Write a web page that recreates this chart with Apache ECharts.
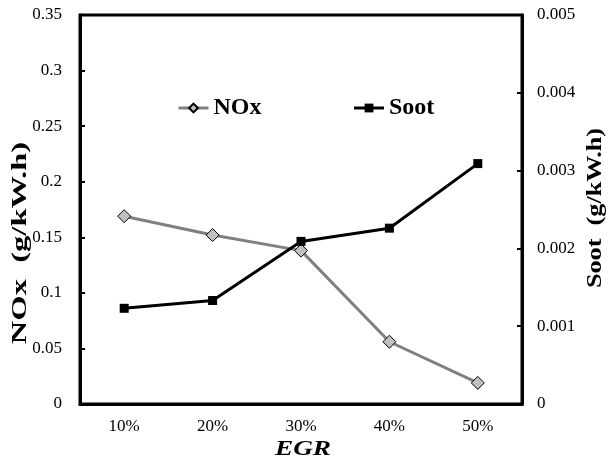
<!DOCTYPE html>
<html>
<head>
<meta charset="utf-8">
<script src="https://cdn.jsdelivr.net/npm/echarts@6/dist/echarts.min.js"></script>
<style>
html, body { margin: 0; padding: 0; background: #fff; }
#chart { width: 608px; height: 464px; }
</style>
</head>
<body>
<div id="chart"></div>
<script>
var categories = ['10%', '20%', '30%', '40%', '50%'];
var nox = [0.169, 0.152, 0.138, 0.056, 0.019];
var soot = [0.00123, 0.00133, 0.00209, 0.00226, 0.00309];

var serif = 'Liberation Serif';
var myChart = echarts.init(document.getElementById('chart'));

var tickLabel = {
    fontFamily: serif,
    fontSize: 17,
    color: '#000'
};

var xAxis = {
    type: 'category',
    data: categories,
    boundaryGap: true,
    axisLine: {lineStyle: {color: '#000', width: 3}},
    axisTick: {inside: true, length: 5, lineStyle: {color: '#000', width: 2}},
    axisLabel: Object.assign({margin: 14}, tickLabel)
};

var yAxis = [{
    type: 'value',
    min: 0,
    max: 0.35,
    interval: 0.05,
    splitLine: {show: false},
    axisLine: {show: true, lineStyle: {color: '#000', width: 3}},
    axisTick: {show: true, inside: true, length: 5, lineStyle: {color: '#000', width: 2}},
    axisLabel: Object.assign({margin: 18}, tickLabel)
}, {
    type: 'value',
    min: 0,
    max: 0.005,
    interval: 0.001,
    splitLine: {show: false},
    axisLine: {show: true, lineStyle: {color: '#000', width: 3}},
    axisTick: {show: true, inside: true, length: 5, lineStyle: {color: '#000', width: 2}},
    axisLabel: Object.assign({margin: 15}, tickLabel)
}];

var series = [{
    name: 'NOx',
    type: 'line',
    yAxisIndex: 0,
    data: nox,
    symbol: 'diamond',
    symbolSize: 13,
    itemStyle: {color: '#c0c0c0', borderColor: '#000', borderWidth: 1},
    lineStyle: {color: '#808080', width: 3},
    animation: false
}, {
    name: 'Soot',
    type: 'line',
    yAxisIndex: 1,
    data: soot,
    symbol: 'rect',
    symbolSize: 9,
    itemStyle: {color: '#000'},
    lineStyle: {color: '#000', width: 3},
    z: 3,
    animation: false
}];

var option = {
    animation: false,
    grid: {
        left: 80, right: 86, top: 15, bottom: 60,
        show: true, borderColor: '#000', borderWidth: 3
    },
    legend: {
        left: 172,
        top: 91,
        itemWidth: 30,
        itemHeight: 11,
        itemGap: 91,
        lineStyle: {width: 3},
        textStyle: {fontFamily: serif, fontWeight: 'bold', fontSize: 24, color: '#000'},
        data: ['NOx', 'Soot']
    },
    xAxis: xAxis,
    yAxis: yAxis,
    series: series,
    graphic: [{
        type: 'text',
        x: 21, y: 243,
        rotation: Math.PI / 2,
        scaleX: 1.55,
        style: {
            text: 'NOx  (g/kW.h)',
            font: 'bold 21px "Liberation Serif"',
            fill: '#000',
            textAlign: 'center', textVerticalAlign: 'middle',
            align: 'center', verticalAlign: 'middle'
        }
    }, {
        type: 'text',
        x: 596, y: 208,
        rotation: Math.PI / 2,
        scaleX: 1.25,
        style: {
            text: 'Soot  (g/kW.h)',
            font: 'bold 21px "Liberation Serif"',
            fill: '#000',
            textAlign: 'center', textVerticalAlign: 'middle',
            align: 'center', verticalAlign: 'middle'
        }
    }, {
        type: 'text',
        x: 303, y: 450,
        scaleX: 1.3,
        style: {
            text: 'EGR',
            font: 'italic bold 21px "Liberation Serif"',
            fill: '#000',
            textAlign: 'center', textVerticalAlign: 'middle',
            align: 'center', verticalAlign: 'middle'
        }
    }]
};

myChart.setOption(option);
</script>
</body>
</html>
